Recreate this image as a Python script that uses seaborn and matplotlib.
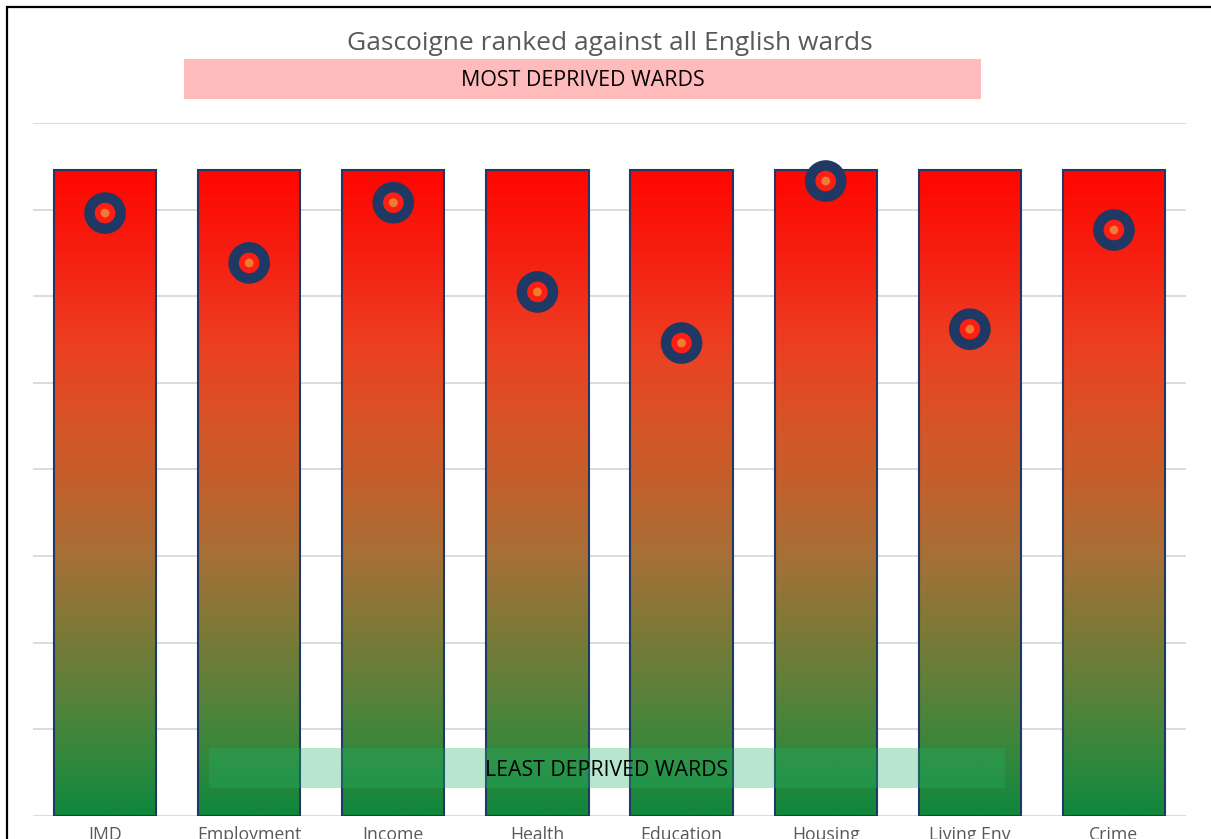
import numpy as np
import pandas as pd
import matplotlib.pyplot as plt
import seaborn as sbn
from matplotlib.colors import LinearSegmentedColormap
from matplotlib.patches import Rectangle

# ward ranks (higher = more deprived), bar = all English wards
domains = ["IMD", "Employment", "Income", "Health", "Education", "Housing", "Living Env", "Crime"]
total_wards = [7460, 7460, 7460, 7460, 7460, 7460, 7460, 7460]
gascoigne_rank = [6960, 6385, 7080, 6050, 5460, 7330, 5620, 6765]

df = pd.DataFrame({"Domain": domains, "Total": total_wards, "Rank": gascoigne_rank})

sbn.set_style("white")
plt.rcParams["font.family"] = ["Open Sans", "DejaVu Sans"]

fig = plt.figure(figsize=(12.11, 8.39), dpi=100)
ax = fig.add_axes([33 / 1211, 23 / 839, 1153 / 1211, 693 / 839])

navy = "#1F3864"
sbn.barplot(data=df, x="Domain", y="Total", width=0.71, ax=ax,
            edgecolor=navy, linewidth=1.5, facecolor="none", zorder=3)

# green (bottom) -> red (top)
stops = [(0.0, (15, 135, 60)), (0.1, (55, 135, 60)), (0.2, (95, 128, 58)),
         (0.3, (130, 120, 55)), (0.4, (165, 112, 55)), (0.5, (192, 98, 45)),
         (0.6, (213, 85, 40)), (0.72, (235, 65, 35)), (0.85, (245, 35, 20)),
         (1.0, (255, 5, 0))]
cmap = LinearSegmentedColormap.from_list("grad", [(t, tuple(c / 255 for c in rgb)) for t, rgb in stops])
grad = np.linspace(0, 1, 256).reshape(-1, 1)
for p in ax.patches:
    x0, y0 = p.get_x(), p.get_y()
    w, h = p.get_width(), p.get_height()
    im = ax.imshow(grad, cmap=cmap, origin="lower", aspect="auto",
                   extent=[x0, x0 + w, y0, y0 + h], zorder=2)
    im.set_clip_path(p)

# target markers
sbn.scatterplot(data=df, x="Domain", y="Rank", s=900, color=navy, edgecolor="none", ax=ax, zorder=4)
sbn.scatterplot(data=df, x="Domain", y="Rank", s=220, color="#FF1E14", edgecolor="none", ax=ax, zorder=5)
sbn.scatterplot(data=df, x="Domain", y="Rank", s=40, color="#ED7D31", edgecolor="none", ax=ax, zorder=6)

ax.set_xlim(-0.5, 7.5)
ax.set_ylim(0, 8000)
ax.set_yticks(np.arange(0, 8001, 1000))
ax.set_yticklabels([])
ax.grid(axis="y", color="#D9D9D9", linewidth=1.3)
ax.set_axisbelow(True)
sbn.despine(ax=ax, left=True, bottom=True, top=True, right=True)
ax.tick_params(axis="both", length=0)
# labels sit partly below the frame edge, as in the original screenshot
ax.tick_params(axis="x", pad=7, labelsize=12.7, labelcolor="#595959")
ax.set_xlabel("")
ax.set_ylabel("")

fig.text(610 / 1211, 1 - 44 / 839, "Gascoigne ranked against all English wards",
         ha="center", va="center", fontsize=19, color="#595959")

fig.add_artist(Rectangle((184 / 1211, 1 - 99 / 839), 797 / 1211, 40 / 839,
                         transform=fig.transFigure, facecolor="#FFBBBB", edgecolor="none", zorder=5))
fig.text(583 / 1211, 1 - 81 / 839, "MOST DEPRIVED WARDS", ha="center", va="center",
         fontsize=15.4, color="black", zorder=6)

fig.add_artist(Rectangle((209 / 1211, 1 - 788 / 839), 796 / 1211, 40 / 839,
                         transform=fig.transFigure, facecolor="#24B066", alpha=0.32,
                         edgecolor="none", zorder=5))
fig.text(607 / 1211, 1 - 770 / 839, "LEAST DEPRIVED WARDS", ha="center", va="center",
         fontsize=15.3, color="black", zorder=6)

# outer frame
fig.add_artist(Rectangle((7 / 1211, -0.05), 1.1, 1.05 - 7 / 839,
                         transform=fig.transFigure, facecolor="none",
                         edgecolor="black", linewidth=1.6, zorder=10))

fig.savefig("out.png", dpi=100)
